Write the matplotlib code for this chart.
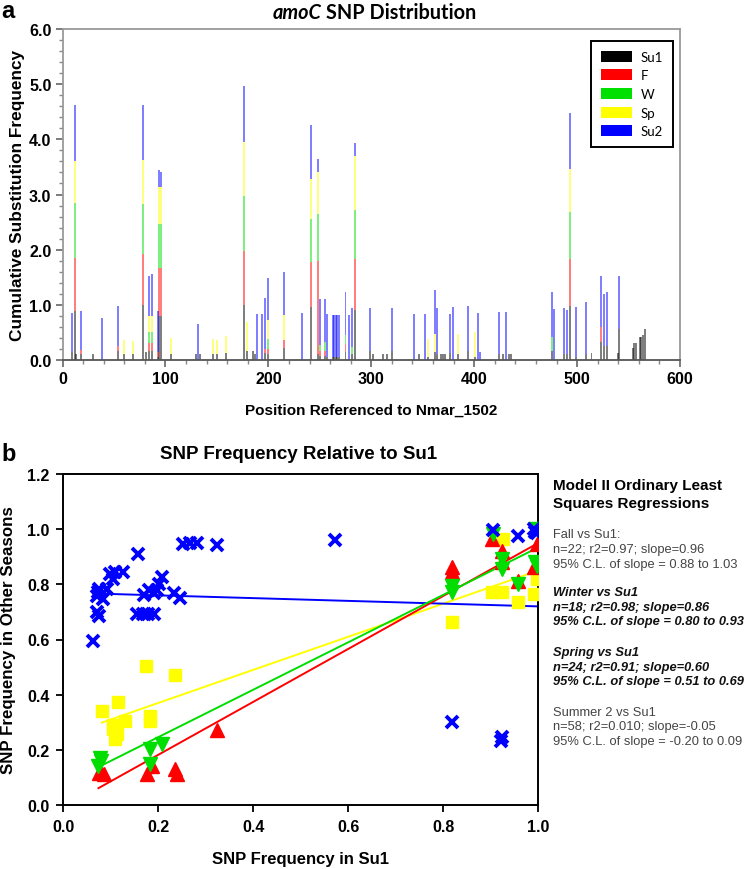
import matplotlib
matplotlib.use("Agg")
import matplotlib.pyplot as plt
from matplotlib.patches import Patch
from matplotlib.ticker import MultipleLocator, FormatStrFormatter
import numpy as np

# ---------------- Panel a data: stacked SNP frequencies per position ----------------
positions = [8.9, 12, 13.5, 18, 30, 38.7, 54, 59.5, 68.5, 78, 81, 84, 87, 92.5, 94, 95.5,
             105, 130, 131.5, 133.6, 146.6, 149.8, 158.5, 176, 179.6, 184.8, 187, 188.7,
             194, 197, 200, 215.3, 233, 241.5, 248, 250, 255, 257, 262.5, 264, 265.5, 267,
             269, 275, 278, 281, 284, 299, 302, 311, 315, 320, 342, 346, 352.6, 355.6,
             361.5, 363.7, 367.6, 369.5, 371.8, 376.6, 379.7, 384.7, 394.2, 401, 403.5,
             406, 424.5, 428, 430.7, 433.5, 436, 475.4, 478, 487, 490, 493, 499, 508.4,
             514, 523, 526, 529, 539.5, 541, 554, 555.5, 557, 561, 562.5, 564.5, 566]
su1 = [0.15, 0.89, 0.10, 0.10, 0.10, 0.00, 0.17, 0.10, 0.10, 1.00, 0.15, 0.17, 0.17, 0.05, 0.80, 0.80,
       0.10, 0.10, 0.00, 0.10, 0.10, 0.10, 0.12, 1.00, 0.17, 0.17, 0.10, 0.00,
       0.00, 0.12, 0.10, 0.22, 0.00, 0.96, 0.10, 0.08, 0.08, 0.05, 0.05, 0.05, 0.05, 0.05,
       0.05, 0.14, 0.00, 0.10, 0.90, 0.17, 0.10, 0.10, 0.10, 0.17, 0.00, 0.10, 0.00, 0.05,
       0.15, 0.10, 0.10, 0.10, 0.10, 0.12, 0.00, 0.10, 0.17, 0.05, 0.00,
       0.00, 0.10, 0.10, 0.00, 0.10, 0.10, 0.17, 0.00, 0.10, 0.10, 0.97, 0.05, 0.10,
       0.12, 0.32, 0.25, 0.25, 0.13, 0.56, 0.21, 0.30, 0.30, 0.41, 0.42, 0.45, 0.56]
f_ = [0.00, 0.95, 0.00, 0.08, 0.00, 0.00, 0.09, 0.00, 0.00, 0.93, 0.00, 0.13, 0.13, 0.10, 0.86, 0.86,
      0.00, 0.00, 0.00, 0.00, 0.00, 0.00, 0.00, 0.97, 0.00, 0.00, 0.00, 0.00,
      0.00, 0.08, 0.10, 0.14, 0.00, 0.81, 1.70, 0.08, 0.09, 0.00, 0.00, 0.00, 0.00, 0.00,
      0.00, 0.15, 0.00, 0.00, 0.93, 0.00, 0.00, 0.00, 0.00, 0.00, 0.00, 0.00, 0.00, 0.00,
      0.00, 0.00, 0.00, 0.00, 0.00, 0.00, 0.00, 0.00, 0.00, 0.00, 0.00,
      0.00, 0.00, 0.00, 0.00, 0.00, 0.00, 0.00, 0.00, 0.00, 0.00, 0.86, 0.00, 0.00,
      0.00, 0.27, 0.00, 0.00, 0.00, 0.00, 0.00, 0.00, 0.00, 0.00, 0.00, 0.00, 0.00]
w = [0.00, 1.00, 0.00, 0.00, 0.00, 0.00, 0.00, 0.00, 0.00, 0.89, 0.00, 0.20, 0.20, 0.00, 0.81, 0.81,
     0.00, 0.00, 0.00, 0.00, 0.00, 0.00, 0.00, 1.00, 0.00, 0.00, 0.00, 0.00,
     0.00, 0.00, 0.18, 0.00, 0.00, 0.78, 0.84, 0.12, 0.15, 0.00, 0.00, 0.00, 0.00, 0.00,
     0.00, 0.16, 0.00, 0.13, 0.89, 0.00, 0.00, 0.00, 0.00, 0.00, 0.00, 0.00, 0.00, 0.00,
     0.00, 0.00, 0.00, 0.00, 0.00, 0.00, 0.00, 0.00, 0.00, 0.00, 0.00,
     0.00, 0.00, 0.00, 0.00, 0.00, 0.00, 0.24, 0.00, 0.00, 0.00, 0.86, 0.00, 0.00,
     0.00, 0.00, 0.00, 0.00, 0.00, 0.00, 0.00, 0.00, 0.00, 0.00, 0.00, 0.00, 0.00]
sp = [0.00, 0.76, 0.00, 0.00, 0.00, 0.00, 0.00, 0.26, 0.25, 0.81, 0.00, 0.30, 0.30, 0.00, 0.66, 0.66,
      0.30, 0.00, 0.00, 0.00, 0.28, 0.26, 0.32, 0.99, 0.51, 0.00, 0.00, 0.00,
      0.00, 0.00, 0.34, 0.45, 0.00, 0.73, 0.77, 0.00, 0.00, 0.00, 0.00, 0.00, 0.00, 0.00,
      0.00, 0.00, 0.00, 0.00, 0.97, 0.00, 0.00, 0.00, 0.00, 0.00, 0.00, 0.00, 0.00, 0.33,
      0.32, 0.00, 0.00, 0.00, 0.00, 0.00, 0.00, 0.37, 0.00, 0.45, 0.00,
      0.00, 0.00, 0.00, 0.00, 0.00, 0.00, 0.00, 0.00, 0.00, 0.00, 0.77, 0.00, 0.00,
      0.00, 0.00, 0.00, 0.00, 0.00, 0.00, 0.00, 0.00, 0.00, 0.00, 0.00, 0.00, 0.00]
su2 = [0.70, 1.02, 0.00, 0.70, 0.00, 0.76, 0.71, 0.00, 0.00, 1.00, 0.00, 0.73, 0.75, 0.73, 0.31, 0.27,
       0.00, 0.00, 0.65, 0.00, 0.00, 0.00, 0.00, 1.00, 0.00, 0.00, 0.00, 0.84,
       0.83, 0.92, 0.77, 0.79, 0.85, 0.98, 0.24, 0.82, 0.78, 0.78, 0.77, 0.77, 0.77, 0.77,
       0.77, 0.78, 0.82, 0.72, 0.25, 0.77, 0.00, 0.00, 0.00, 0.77, 0.83, 0.00, 0.83, 0.00,
       0.79, 0.84, 0.00, 0.00, 0.00, 0.71, 0.96, 0.00, 0.81, 0.00, 0.86,
       0.15, 0.77, 0.00, 0.87, 0.00, 0.00, 0.83, 0.92, 0.84, 0.81, 1.01, 0.91, 0.96,
       0.00, 0.94, 0.95, 0.98, 0.00, 0.97, 0.00, 0.00, 0.00, 0.00, 0.00, 0.00, 0.00]
series_names = ["Su1", "F", "W", "Sp", "Su2"]
series_colors = ["#000000", "#FF0000", "#00E000", "#FFFF00", "#0000FF"]

# ---------------- Panel b data: SNP frequency vs Su1 ----------------
fall_x = [0.075, 0.080, 0.085, 0.176, 0.186, 0.235, 0.240, 0.324, 0.818, 0.818, 0.902, 0.923, 0.923, 0.958, 0.997, 0.990]
fall_y = [0.115, 0.120, 0.112, 0.112, 0.143, 0.130, 0.112, 0.272, 0.862, 0.843, 0.964, 0.922, 0.880, 0.813, 0.946, 0.862]
winter_x = [0.077, 0.080, 0.074, 0.183, 0.183, 0.207, 0.818, 0.818, 0.904, 0.923, 0.923, 0.958, 0.993, 0.997, 0.993]
winter_y = [0.170, 0.160, 0.140, 0.203, 0.149, 0.221, 0.795, 0.771, 0.983, 0.892, 0.856, 0.801, 0.880, 0.868, 1.000]
spring_x = [0.081, 0.116, 0.105, 0.108, 0.112, 0.130, 0.105, 0.174, 0.183, 0.183, 0.235, 0.818, 0.902, 0.923, 0.925, 0.958, 0.990, 0.997, 0.997]
spring_y = [0.342, 0.372, 0.276, 0.240, 0.258, 0.306, 0.290, 0.503, 0.324, 0.306, 0.471, 0.662, 0.771, 0.771, 0.964, 0.735, 0.765, 0.820, 1.000]
summer2_x = [0.062, 0.075, 0.070, 0.072, 0.070, 0.076, 0.083, 0.091, 0.098, 0.105, 0.109, 0.125, 0.158, 0.155,
             0.167, 0.178, 0.190, 0.170, 0.180, 0.190, 0.197, 0.207, 0.202, 0.232, 0.246, 0.253, 0.267, 0.281,
             0.324, 0.571, 0.904, 0.958, 0.993, 0.990, 0.997, 0.818, 0.923, 0.921]
summer2_y = [0.596, 0.686, 0.700, 0.771, 0.759, 0.783, 0.747, 0.783, 0.838, 0.820, 0.845, 0.845, 0.910, 0.693,
             0.693, 0.693, 0.693, 0.760, 0.780, 0.770, 0.780, 0.826, 0.800, 0.770, 0.750, 0.946, 0.950, 0.950,
             0.943, 0.961, 0.997, 0.977, 0.990, 1.000, 0.985, 0.300, 0.245, 0.233]

# Regression lines (slope, intercept, x range)
fall_fit = (0.96, -0.01, 0.074, 1.0)
winter_fit = (0.86, 0.074, 0.074, 1.0)
spring_fit = (0.60, 0.25, 0.081, 1.0)
summer2_fit = (-0.05, 0.77, 0.10, 1.0)

stats_blocks = [
    ("Fall vs Su1:", "n=22; r2=0.97; slope=0.96", "95% C.L. of slope = 0.88 to 1.03", "normal"),
    ("Winter vs Su1", "n=18; r2=0.98; slope=0.86", "95% C.L. of slope = 0.80 to 0.93", "bolditalic"),
    ("Spring vs Su1", "n=24; r2=0.91; slope=0.60", "95% C.L. of slope = 0.51 to 0.69", "bolditalic"),
    ("Summer 2 vs Su1", "n=58; r2=0.010; slope=-0.05", "95% C.L. of slope = -0.20 to 0.09", "normal"),
]

ARIAL = ["Liberation Sans", "DejaVu Sans"]
CALIBRI = ["Lato", "DejaVu Sans"]
plt.rcParams["font.family"] = ARIAL

fig = plt.figure(figsize=(7.47, 8.70), dpi=100)

# ================= Panel a =================
ax1 = fig.add_axes([62.5 / 747, 1 - 361 / 870, 617.5 / 747, 331 / 870])
bottoms = np.zeros(len(positions))
for name, vals, col in zip(series_names, [su1, f_, w, sp, su2], series_colors):
    v = np.array(vals)
    ax1.bar(positions, v, bottom=bottoms, width=1.9, color=col, alpha=0.5,
            linewidth=0, zorder=2)
    bottoms = bottoms + v
ax1.set_xlim(0, 600)
ax1.set_ylim(0, 6)
ax1.xaxis.set_major_locator(MultipleLocator(100))
ax1.xaxis.set_minor_locator(MultipleLocator(20))
ax1.yaxis.set_major_locator(MultipleLocator(1.0))
ax1.yaxis.set_minor_locator(MultipleLocator(0.2))
ax1.yaxis.set_major_formatter(FormatStrFormatter("%.1f"))
for s in ax1.spines.values():
    s.set_color("#9a9a9a")
    s.set_linewidth(1.3)
ax1.spines["bottom"].set_color("#555555")
ax1.tick_params(axis="both", which="major", direction="out", length=5, width=1.2,
                color="#666666", labelsize=11.5, pad=3)
ax1.tick_params(axis="both", which="minor", direction="out", length=3, width=1.0, color="#888888")
for lab in ax1.get_xticklabels() + ax1.get_yticklabels():
    lab.set_fontweight("bold")
ax1.set_ylabel("Cumulative Substitution Frequency", fontsize=12.4, fontweight="bold", labelpad=3)
ax1.set_xlabel("Position Referenced to Nmar_1502", fontsize=11, fontweight="bold", labelpad=12)

handles = [Patch(facecolor=c, edgecolor="none") for c in series_colors]
leg = ax1.legend(handles, series_names, loc="upper right", bbox_to_anchor=(0.988, 0.964),
                 borderaxespad=0, fancybox=False, framealpha=1, edgecolor="black",
                 handlelength=2.4, handleheight=0.9, labelspacing=0.5, handletextpad=0.6,
                 borderpad=0.75, prop={"family": CALIBRI, "size": 9.5})
leg.get_frame().set_linewidth(1.4)

# Title: italic bold "amoC" + bold " SNP Distribution"
title_y = 1 - 13 / 870
fig.text(322 / 747, title_y, "amoC", fontsize=14.3, fontweight="bold", style="italic",
         family=CALIBRI, ha="right", va="center")
fig.text(326 / 747, title_y, "SNP Distribution", fontsize=14.3, fontweight="bold",
         family=CALIBRI, ha="left", va="center")
fig.text(8 / 747, 1 - 11 / 870, "a", fontsize=17, fontweight="bold", ha="center", va="center")

# ================= Panel b =================
ax2 = fig.add_axes([63.3 / 747, 64 / 870, 475 / 747, 331 / 870])
for fit, col in [(spring_fit, "#FFFF00"), (summer2_fit, "#0000FF"), (fall_fit, "#FF0000"), (winter_fit, "#00DD00")]:
    slope, icpt, x0, x1 = fit
    xs = np.array([x0, x1])
    ax2.plot(xs, icpt + slope * xs, color=col, lw=1.4, zorder=2)
ax2.plot(spring_x, spring_y, ls="none", marker="s", ms=9, color="#FFFF00", mec="#FFFF00", zorder=3)
ax2.plot(fall_x, fall_y, ls="none", marker="^", ms=10, color="#FF0000", mec="#FF0000", zorder=4)
ax2.plot(winter_x, winter_y, ls="none", marker="v", ms=10, color="#00DD00", mec="#00DD00", zorder=5)
ax2.plot(summer2_x, summer2_y, ls="none", marker="x", ms=9, mew=2.8, color="#0000FF", zorder=6)
ax2.set_xlim(0, 1.0)
ax2.set_ylim(0, 1.2)
ax2.xaxis.set_major_locator(MultipleLocator(0.2))
ax2.yaxis.set_major_locator(MultipleLocator(0.2))
ax2.xaxis.set_major_formatter(FormatStrFormatter("%.1f"))
ax2.yaxis.set_major_formatter(FormatStrFormatter("%.1f"))
for s in ax2.spines.values():
    s.set_color("black")
    s.set_linewidth(1.4)
ax2.tick_params(axis="both", direction="out", length=5, width=1.3, labelsize=11.5, pad=5)
for lab in ax2.get_xticklabels() + ax2.get_yticklabels():
    lab.set_fontweight("bold")
ax2.set_ylabel("SNP Frequency in Other Seasons", fontsize=12.2, fontweight="bold", labelpad=8)
ax2.set_xlabel("SNP Frequency in Su1", fontsize=12, fontweight="bold", labelpad=12)
fig.text(299 / 747, 1 - 455 / 870, "SNP Frequency Relative to Su1", fontsize=13.5,
         fontweight="bold", ha="center", va="center")
fig.text(9 / 747, 1 - 455 / 870, "b", fontsize=17, fontweight="bold", ha="center", va="center")

# Regression statistics text
tx = 552.7 / 747
fig.text(tx, 1 - 486 / 870, "Model II Ordinary Least", fontsize=11, fontweight="bold", va="center")
fig.text(tx, 1 - 504 / 870, "Squares Regressions", fontsize=11, fontweight="bold", va="center")
block_y = [535, 592.7, 652.7, 712.7]
for (h, l1, l2, style), y0 in zip(stats_blocks, block_y):
    if style == "bolditalic":
        kw = dict(fontweight="bold", style="italic", color="#111111")
    else:
        kw = dict(color="#444444")
    for k, txt in enumerate([h, l1, l2]):
        fig.text(tx, 1 - (y0 + 14.8 * k) / 870, txt, fontsize=9.3, va="center", **kw)

fig.savefig("out.png", dpi=100)
